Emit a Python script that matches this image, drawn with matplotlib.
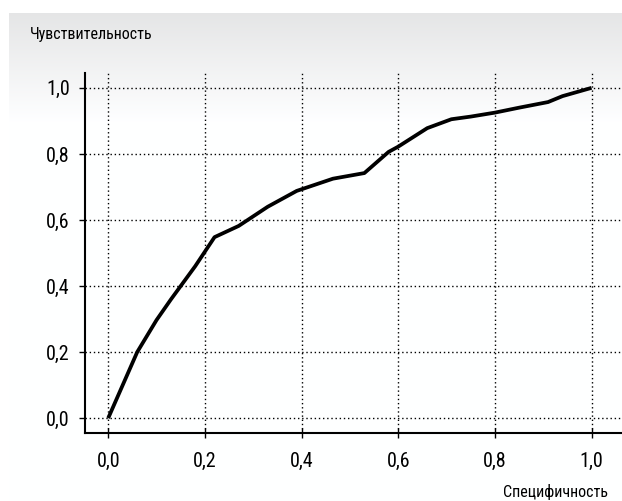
import numpy as np
import matplotlib
matplotlib.use("Agg")
import matplotlib.pyplot as plt
from matplotlib import font_manager

# Data
specificity = [0.0, 0.06, 0.10, 0.13, 0.18, 0.22, 0.27, 0.33, 0.39, 0.465, 0.53,
               0.58, 0.60, 0.66, 0.71, 0.75, 0.80, 0.85, 0.91, 0.94, 1.0]
sensitivity = [0.0, 0.20, 0.297, 0.36, 0.46, 0.548, 0.582, 0.64, 0.688, 0.725, 0.742,
               0.806, 0.822, 0.878, 0.905, 0.913, 0.925, 0.94, 0.957, 0.975, 1.0]
tick_values = [0.0, 0.2, 0.4, 0.6, 0.8, 1.0]
tick_labels = ["0,0", "0,2", "0,4", "0,6", "0,8", "1,0"]
y_title = "Чувствительность"
x_title = "Специфичность"

names = {f.name for f in font_manager.fontManager.ttflist}
fam = [f for f in ["Liberation Sans Narrow", "DejaVu Sans Condensed", "Roboto Condensed"] if f in names] + ["DejaVu Sans"]
plt.rcParams['font.family'] = fam

W, H = 622, 501
fig = plt.figure(figsize=(W / 100, H / 100), dpi=100)

# background gradient panel
bg = fig.add_axes([9 / W, 0, 1 - 9 / W, (H - 13) / H])
bg.set_axis_off()
n = 488
grad = np.ones(n)
g_len = 110
grad[:g_len] = np.linspace(0.90, 1.0, g_len)
img = np.zeros((n, 2, 3))
img[:, :, 0] = (grad * 0.997)[:, None]
img[:, :, 1] = grad[:, None]
img[:, :, 2] = np.minimum(grad * 1.003, 1.0)[:, None]
bg.imshow(img, aspect='auto', extent=[0, 1, 0, 1], interpolation='bilinear')
bg.set_xlim(0, 1)
bg.set_ylim(0, 1)

x0 = -0.048
x1 = 1.063
y0 = -0.045
y1 = 1.045
ax = fig.add_axes([85 / W, (H - 433) / H, (W - 85) / W, (433 - 73) / H])
ax.patch.set_alpha(0)
ax.set_xlim(x0, x1)
ax.set_ylim(y0, y1)

ax.plot(specificity, sensitivity, color='black', lw=2.7, solid_joinstyle='round',
        solid_capstyle='butt', zorder=3)

ax.set_xticks(tick_values)
ax.set_xticklabels(tick_labels)
ax.set_yticks(tick_values)
ax.set_yticklabels(tick_labels)
ax.grid(True, color='black', linestyle=(0, (1, 2)), lw=1.0)

for s in ['top', 'right']:
    ax.spines[s].set_visible(False)
for s in ['left', 'bottom']:
    ax.spines[s].set_linewidth(1.5)
    ax.spines[s].set_color('black')

ax.tick_params(axis='y', direction='out', length=4, width=1, pad=7, labelsize=14.5)
ax.tick_params(axis='x', direction='inout', length=7, width=1, pad=10, labelsize=14.5)

fig.text(30 / W, 1 - 35 / H, y_title, fontsize=11.5, ha='left', va='center')
fig.text(608 / W, 1 - 492 / H, x_title, fontsize=11.5, ha='right', va='center')

fig.savefig("out.png", dpi=100)
